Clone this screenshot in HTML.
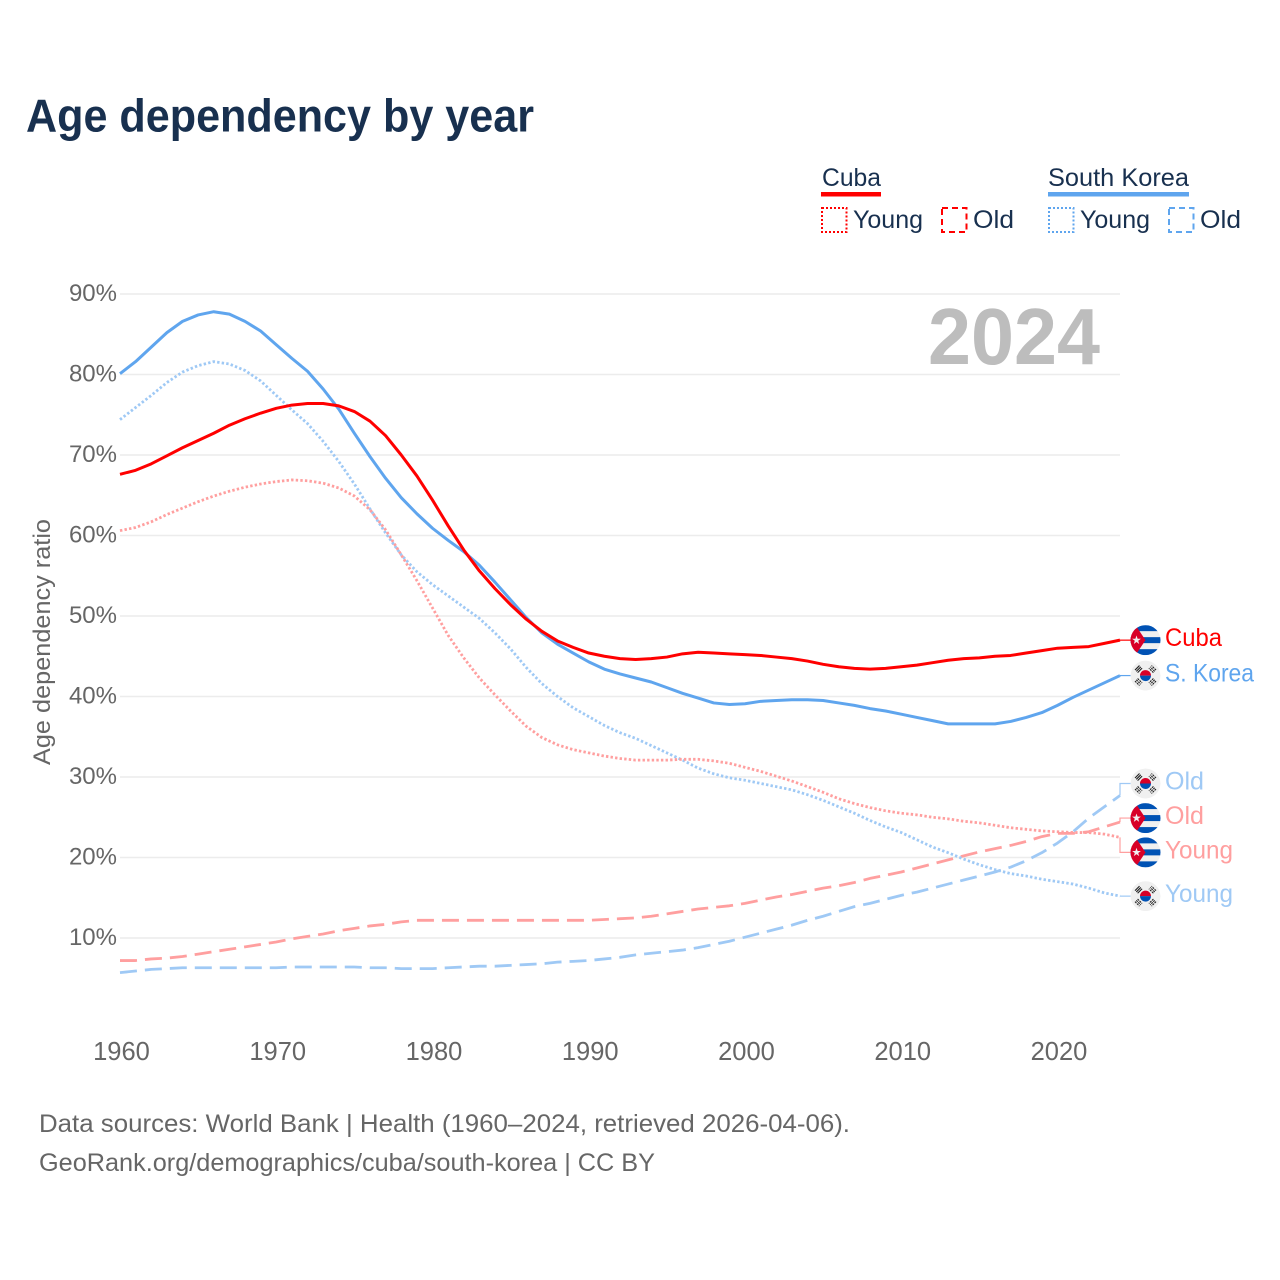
<!DOCTYPE html>
<html lang="en">
<head>
<meta charset="utf-8">
<title>Age dependency by year</title>
<style>
html,body{margin:0;padding:0;background:#fff;}
svg{display:block;font-family:"Liberation Sans",sans-serif;}
</style>
</head>
<body>
<svg id="chart" xmlns="http://www.w3.org/2000/svg" width="1280" height="1280" viewBox="0 0 1280 1280">
  <defs>
    <clipPath id="flag-clip"><circle cx="0" cy="0" r="15"/></clipPath>
    <symbol id="flag-cuba" overflow="visible" viewBox="-15 -15 30 30">
      <g clip-path="url(#flag-clip)">
        <rect x="-15" y="-15" width="30" height="30" fill="#f0f0f0"/>
        <rect x="-15" y="-15" width="30" height="6" fill="#0052b4"/>
        <rect x="-15" y="-3" width="30" height="6" fill="#0052b4"/>
        <rect x="-15" y="9" width="30" height="6" fill="#0052b4"/>
        <polygon points="-15,-15 -10,-15 0,0 -10,15 -15,15" fill="#d80027"/>
        <polygon points="-9,-4.6 -7.9,-1.4 -4.6,-1.4 -7.3,0.6 -6.3,3.8 -9,1.8 -11.7,3.8 -10.7,0.6 -13.4,-1.4 -10.1,-1.4" fill="#f0f0f0"/>
      </g>
    </symbol>
    <symbol id="flag-korea" overflow="visible" viewBox="-15 -15 30 30">
      <g clip-path="url(#flag-clip)">
        <circle cx="0" cy="0" r="15" fill="#f0f0f0"/>
        <path d="M-5.5,0A5.5,5.5 0 0 1 5.5,0Z" fill="#d80027"/>
        <path d="M-5.5,0A5.5,5.5 0 0 0 5.5,0Z" fill="#0052b4"/>
        <g stroke="#222" stroke-width="1.1" fill="none">
          <path d="M-10.5,-5.5L-6,-10M-9.2,-4.2L-4.7,-8.7M-7.9,-2.9L-3.4,-7.4"/>
          <path d="M10.5,-5.5L6,-10M9.2,-4.2L4.7,-8.7M7.9,-2.9L3.4,-7.4" stroke-dasharray="2 .8"/>
          <path d="M-10.5,5.5L-6,10M-9.2,4.2L-4.7,8.7M-7.9,2.9L-3.4,7.4" stroke-dasharray="2 .8"/>
          <path d="M10.5,5.5L6,10M9.2,4.2L4.7,8.7M7.9,2.9L3.4,7.4" stroke-dasharray="2 .8"/>
        </g>
      </g>
    </symbol>
  </defs>

  <text x="26" y="131.5" font-size="46" font-weight="700" fill="#18304f" textLength="508" lengthAdjust="spacingAndGlyphs">Age dependency by year</text>

  <g>
    <text x="822" y="186" font-size="25" fill="#18304f" textLength="59" lengthAdjust="spacingAndGlyphs">Cuba</text>
    <rect x="821" y="192" width="60" height="4.5" fill="#ff0000"/>
    <text x="1048" y="186" font-size="25" fill="#18304f" textLength="141" lengthAdjust="spacingAndGlyphs">South Korea</text>
    <rect x="1048" y="192" width="141" height="4.5" fill="#5fa5ee"/>

    <rect x="822" y="208" width="24.5" height="24" fill="none" stroke="#ff0000" stroke-width="2" stroke-dasharray="2 2"/>
    <text x="853" y="228" font-size="25" fill="#18304f" textLength="70" lengthAdjust="spacingAndGlyphs">Young</text>
    <rect x="942" y="208" width="24.5" height="24" fill="none" stroke="#ff0000" stroke-width="2" stroke-dasharray="6 4"/>
    <text x="973" y="228" font-size="25" fill="#18304f" textLength="41" lengthAdjust="spacingAndGlyphs">Old</text>

    <rect x="1049" y="208" width="24.5" height="24" fill="none" stroke="#5fa5ee" stroke-width="2" stroke-dasharray="2 2"/>
    <text x="1080" y="228" font-size="25" fill="#18304f" textLength="70" lengthAdjust="spacingAndGlyphs">Young</text>
    <rect x="1169" y="208" width="24.5" height="24" fill="none" stroke="#5fa5ee" stroke-width="2" stroke-dasharray="6 4"/>
    <text x="1200" y="228" font-size="25" fill="#18304f" textLength="41" lengthAdjust="spacingAndGlyphs">Old</text>
  </g>

  <g id="grid"></g>
  <g id="y-ticks"></g>
  <g id="x-ticks"></g>

  <text transform="translate(50,642) rotate(-90)" text-anchor="middle" font-size="24" fill="#666666" textLength="246" lengthAdjust="spacingAndGlyphs">Age dependency ratio</text>

  <text x="928" y="364" font-size="80" font-weight="700" fill="#bdbdbd" textLength="172" lengthAdjust="spacingAndGlyphs">2024</text>

  <g id="series"></g>
  <g id="end-labels"></g>

  <text x="39" y="1132" font-size="25" fill="#666666" textLength="811" lengthAdjust="spacingAndGlyphs">Data sources: World Bank | Health (1960–2024, retrieved 2026-04-06).</text>
  <text x="39" y="1171" font-size="25" fill="#666666" textLength="616" lengthAdjust="spacingAndGlyphs">GeoRank.org/demographics/cuba/south-korea | CC BY</text>
</svg>

<script>
const years = [
  1960,1961,1962,1963,1964,1965,1966,1967,1968,1969,
  1970,1971,1972,1973,1974,1975,1976,1977,1978,1979,
  1980,1981,1982,1983,1984,1985,1986,1987,1988,1989,
  1990,1991,1992,1993,1994,1995,1996,1997,1998,1999,
  2000,2001,2002,2003,2004,2005,2006,2007,2008,2009,
  2010,2011,2012,2013,2014,2015,2016,2017,2018,2019,
  2020,2021,2022,2023,2024
];
const cubaTotal = [
  67.6,68.1,68.9,69.9,70.9,71.8,72.7,73.7,74.5,75.2,
  75.8,76.2,76.4,76.4,76.1,75.4,74.2,72.4,70.0,67.4,
  64.4,61.2,58.2,55.6,53.4,51.4,49.6,48.1,46.9,46.1,
  45.4,45.0,44.7,44.6,44.7,44.9,45.3,45.5,45.4,45.3,
  45.2,45.1,44.9,44.7,44.4,44.0,43.7,43.5,43.4,43.5,
  43.7,43.9,44.2,44.5,44.7,44.8,45.0,45.1,45.4,45.7,
  46.0,46.1,46.2,46.6,47.0
];
const koreaTotal = [
  80.1,81.6,83.4,85.2,86.6,87.4,87.8,87.5,86.6,85.4,
  83.7,82.0,80.4,78.2,75.7,72.7,69.8,67.1,64.7,62.7,
  60.9,59.4,58.0,56.3,54.2,52.0,49.8,47.9,46.5,45.4,
  44.3,43.4,42.8,42.3,41.8,41.1,40.4,39.8,39.2,39.0,
  39.1,39.4,39.5,39.6,39.6,39.5,39.2,38.9,38.5,38.2,
  37.8,37.4,37.0,36.6,36.6,36.6,36.6,36.9,37.4,38.0,
  38.9,39.9,40.8,41.7,42.6
];
const cubaYoung = [
  60.6,61.0,61.7,62.6,63.4,64.2,64.9,65.5,66.0,66.4,
  66.7,66.9,66.8,66.5,65.9,64.9,63.2,60.7,57.6,54.4,
  51.0,47.6,44.8,42.3,40.2,38.2,36.3,34.9,34.0,33.4,
  33.0,32.6,32.3,32.1,32.1,32.1,32.2,32.2,32.0,31.7,
  31.2,30.7,30.1,29.5,28.8,28.1,27.3,26.7,26.2,25.8,
  25.5,25.3,25.0,24.8,24.5,24.3,24.0,23.7,23.5,23.3,
  23.2,23.1,23.1,22.9,22.5
];
const cubaOld = [
  7.2,7.2,7.4,7.5,7.7,8.0,8.3,8.6,8.9,9.2,
  9.5,9.9,10.2,10.5,10.9,11.2,11.5,11.7,12.0,12.2,
  12.2,12.2,12.2,12.2,12.2,12.2,12.2,12.2,12.2,12.2,
  12.2,12.3,12.4,12.5,12.7,13.0,13.3,13.6,13.8,14.0,
  14.3,14.7,15.1,15.4,15.8,16.2,16.5,16.9,17.4,17.8,
  18.2,18.7,19.2,19.7,20.2,20.7,21.1,21.5,22.0,22.6,
  23.0,23.0,23.2,23.8,24.4
];
const koreaYoung = [
  74.4,75.9,77.4,79.0,80.3,81.1,81.6,81.3,80.5,79.2,
  77.4,75.6,73.9,71.7,69.2,66.4,63.3,60.3,57.6,55.5,
  53.9,52.5,51.1,49.7,47.9,45.9,43.6,41.6,40.0,38.6,
  37.5,36.4,35.5,34.8,33.9,33.0,32.1,31.1,30.4,29.9,
  29.6,29.2,28.8,28.4,27.8,27.1,26.3,25.5,24.6,23.8,
  23.1,22.2,21.3,20.6,19.8,19.1,18.5,18.0,17.7,17.3,
  17.0,16.7,16.2,15.6,15.2
];
const koreaOld = [
  5.7,5.9,6.1,6.2,6.3,6.3,6.3,6.3,6.3,6.3,
  6.3,6.4,6.4,6.4,6.4,6.4,6.3,6.3,6.2,6.2,
  6.2,6.3,6.4,6.5,6.5,6.6,6.7,6.8,7.0,7.1,
  7.2,7.4,7.6,7.9,8.1,8.3,8.5,8.8,9.2,9.6,
  10.1,10.6,11.1,11.6,12.2,12.7,13.3,13.9,14.3,14.8,
  15.3,15.7,16.2,16.7,17.2,17.7,18.2,18.8,19.6,20.6,
  21.8,23.2,24.9,26.3,27.7
];
const yTickValues = [10,20,30,40,50,60,70,80,90];
const xTickValues = [1960,1970,1980,1990,2000,2010,2020];

const NS = 'http://www.w3.org/2000/svg';
function xScale(year){ return 120 + (year - 1960) * 15.625; }
function yScale(v){ return 938 - (v - 10) * 8.05; }
function node(tag, parent){
  const el = document.createElementNS(NS, tag);
  parent.appendChild(el);
  return el;
}
function linePath(values){
  return values.map(function(v, i){
    return (i ? 'L' : 'M') + xScale(years[i]).toFixed(2) + ',' + yScale(v).toFixed(2);
  }).join('');
}

const gridG = document.getElementById('grid');
const yTickG = document.getElementById('y-ticks');
yTickValues.forEach(function(v){
  const line = node('line', gridG);
  
  
  line.setAttribute('x1', 120);
  line.setAttribute('x2', 1120);
  line.setAttribute('y1', yScale(v));
  line.setAttribute('y2', yScale(v));
  line.setAttribute('stroke', '#ececec');
  line.setAttribute('stroke-width', 1.5);
  const t = node('text', yTickG);
  
  
  t.setAttribute('x', 117);
  t.setAttribute('y', yScale(v) + 7);
  t.setAttribute('text-anchor', 'end');
  t.setAttribute('font-size', 24);
  t.setAttribute('fill', '#666666');
  t.textContent = v + '%';
});

const xTickG = document.getElementById('x-ticks');
xTickValues.forEach(function(y){
  const t = node('text', xTickG);
  
  
  t.setAttribute('x', xScale(y) + 1.5);
  t.setAttribute('y', 1060);
  t.setAttribute('text-anchor', 'middle');
  t.setAttribute('font-size', 25.5);
  t.setAttribute('fill', '#666666');
  t.textContent = y;
});

const seriesG = document.getElementById('series');
const labelG = document.getElementById('end-labels');
const DOT = '2.4 2.2';
const DASH = '17 8';
const RED = '#ff0000';
const BLUE = '#5fa5ee';
const PINK = '#ff9f9f';
const SKY = '#9fc9f5';
const seriesList = [
  {key:'korea-old',   values:koreaOld,   color:SKY,  dash:DASH, width:2.8, label:'Old',      flag:'flag-korea', off:-12, tw:39},
  {key:'cuba-old',    values:cubaOld,    color:PINK, dash:DASH, width:2.8, label:'Old',      flag:'flag-cuba',  off:-4,  tw:39},
  {key:'korea-young', values:koreaYoung, color:SKY,  dash:DOT,  width:2.8, label:'Young',    flag:'flag-korea', off:0,   tw:68},
  {key:'cuba-young',  values:cubaYoung,  color:PINK, dash:DOT,  width:2.8, label:'Young',    flag:'flag-cuba',  off:15,  tw:68},
  {key:'korea-total', values:koreaTotal, color:BLUE, dash:null, width:3,   label:'S. Korea', flag:'flag-korea', off:0,   tw:89},
  {key:'cuba-total',  values:cubaTotal,  color:RED,  dash:null, width:3,   label:'Cuba',     flag:'flag-cuba',  off:0,   tw:57}
];
seriesList.forEach(function(s){
  const p = node('path', seriesG);
  
  
  p.setAttribute('d', linePath(s.values));
  p.setAttribute('fill', 'none');
  p.setAttribute('stroke', s.color);
  p.setAttribute('stroke-width', s.width);
  p.setAttribute('stroke-linejoin', 'round');
  if (s.dash) p.setAttribute('stroke-dasharray', s.dash);

  const last = s.values[s.values.length - 1];
  const endX = xScale(years[years.length - 1]);
  const endY = yScale(last);
  const labelY = endY + s.off;

  const leader = node('path', labelG);
  
  
  leader.setAttribute('d', 'M' + endX + ',' + endY + 'V' + labelY + 'H1132');
  leader.setAttribute('fill', 'none');
  leader.setAttribute('stroke', s.color);
  leader.setAttribute('stroke-width', 1.2);

  const flag = node('use', labelG);
  
  
  flag.setAttribute('href', '#' + s.flag);
  flag.setAttribute('x', 1130.5);
  flag.setAttribute('y', labelY - 15);
  flag.setAttribute('width', 30);
  flag.setAttribute('height', 30);

  const t = node('text', labelG);
  
  
  t.setAttribute('x', 1165);
  t.setAttribute('y', labelY + 6);
  t.setAttribute('font-size', 25);
  t.setAttribute('fill', s.color);
  t.setAttribute('textLength', s.tw);
  t.setAttribute('lengthAdjust', 'spacingAndGlyphs');
  t.textContent = s.label;
});
</script>
</body>
</html>
